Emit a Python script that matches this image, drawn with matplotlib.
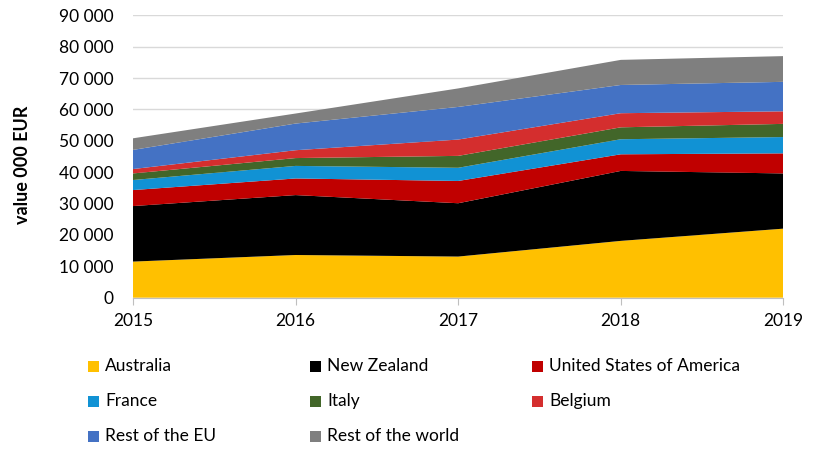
import matplotlib.pyplot as plt
from matplotlib.patches import Rectangle
from matplotlib.ticker import FuncFormatter

plt.rcParams["font.family"] = ["Lato", "DejaVu Sans"]

years = [2015, 2016, 2017, 2018, 2019]
australia = [11500, 13600, 13100, 18100, 22000]
new_zealand = [17700, 19100, 17000, 22300, 17600]
usa = [5100, 5300, 7100, 5300, 6400]
france = [3200, 4000, 4200, 4800, 5200]
italy = [2100, 2500, 3800, 3800, 4200]
belgium = [1400, 2500, 5200, 4500, 4000]
rest_eu = [6100, 8500, 10400, 9000, 9400]
rest_world = [3700, 3200, 5900, 8000, 8200]

names = ["Australia", "New Zealand", "United States of America",
         "France", "Italy", "Belgium", "Rest of the EU", "Rest of the world"]
colors = ["#FFC000", "#000000", "#C00000", "#1192D4",
          "#426629", "#D42E2E", "#4472C4", "#7F7F7F"]
series = [australia, new_zealand, usa, france, italy, belgium, rest_eu, rest_world]

fig = plt.figure(figsize=(8.16, 4.51), dpi=100)
ax = fig.add_axes([0.163, 0.34, 0.797, 0.626])

ax.stackplot(years, *series, colors=colors, linewidth=0, zorder=2)

ax.set_xlim(2015, 2019)
ax.set_ylim(0, 90000)
ax.set_yticks(range(0, 90001, 10000))
ax.set_xticks(years)
ax.yaxis.set_major_formatter(FuncFormatter(lambda v, p: f"{int(v):,}".replace(",", " ")))
ax.grid(axis="y", color="#D9D9D9", linewidth=1, zorder=0)
ax.set_axisbelow(True)

for s in ["top", "right", "left"]:
    ax.spines[s].set_visible(False)
ax.spines["bottom"].set_color("#BFBFBF")
ax.tick_params(axis="y", length=0, labelsize=12.5, pad=14)
ax.tick_params(axis="x", length=5, color="#BFBFBF", labelsize=12.5, pad=6)
ax.set_ylabel("value 000 EUR", fontsize=13, fontweight="bold")
ax.yaxis.set_label_coords(-0.157, 0.47)

# legend, 3 per row
col_x = [88, 310, 532]
row_y = [366, 401, 436]
W, H = fig.bbox.width, fig.bbox.height
for i, (name, c) in enumerate(zip(names, colors)):
    x = col_x[i % 3]
    y = row_y[i // 3]
    fig.patches.append(Rectangle((x / W, (H - y - 5.5) / H), 11 / W, 11 / H,
                                 transform=fig.transFigure, facecolor=c,
                                 edgecolor="none"))
    fig.text((x + 17) / W, (H - y) / H, name, fontsize=12.5, va="center", ha="left")

fig.savefig("out.png", dpi=100)
